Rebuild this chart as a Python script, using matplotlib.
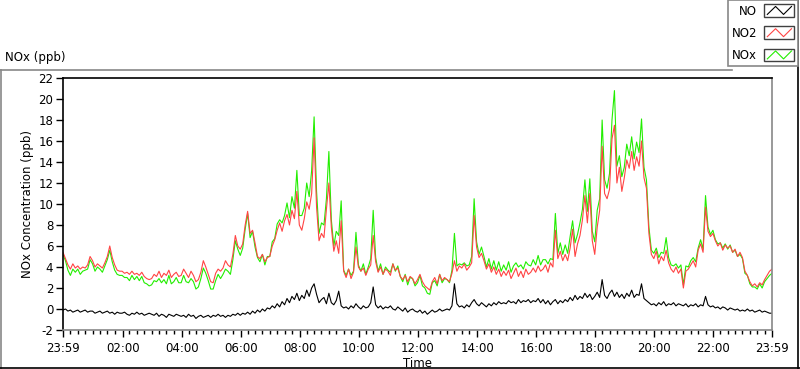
import numpy as np
import matplotlib
matplotlib.use('Agg')
import matplotlib.pyplot as plt
from matplotlib.lines import Line2D
from matplotlib.patches import Rectangle
from matplotlib.legend_handler import HandlerBase

# 5-minute readings from 23:59 to 23:59 next day (hours since start = index / 12)
no2 = [
    5.4, 4.8, 4.2, 3.8, 4.3, 3.9, 4.1, 3.8, 4.0, 3.9, 4.2, 5.0,
    4.6, 4.0, 4.3, 4.1, 3.9, 4.4, 5.0, 6.0, 4.9, 4.2, 3.7, 3.6,
    3.6, 3.4, 3.5, 3.3, 3.6, 3.3, 3.4, 3.2, 3.5, 3.1, 2.9, 2.8,
    2.9, 3.3, 3.1, 3.6, 3.0, 3.4, 3.2, 3.7, 3.0, 3.3, 3.5, 3.1,
    3.2, 3.8, 3.4, 3.0, 3.6, 3.2, 2.6, 2.8, 3.5, 4.6, 4.0, 3.3,
    2.6, 2.5, 3.4, 3.8, 3.6, 3.9, 4.6, 4.2, 4.0, 5.2, 7.0, 6.0,
    5.7, 6.2, 8.0, 9.3, 7.2, 7.5, 6.3, 5.0, 4.8, 5.2, 4.5, 4.9,
    5.0, 6.0, 6.6, 7.5, 8.2, 7.4, 8.4, 9.0, 8.0, 9.4, 8.6, 11.2,
    8.0, 7.5, 8.6, 10.2, 9.5, 11.0, 16.3, 9.7, 6.5, 7.2, 6.8, 9.5,
    12.0, 7.8, 5.5, 6.5, 5.3, 8.4, 3.6, 3.0, 3.8, 2.9, 3.5, 5.9,
    4.0, 3.6, 3.9, 3.2, 3.8, 4.2, 7.0, 4.5, 3.5, 4.0, 3.3, 3.8,
    3.6, 3.2, 4.3, 3.7, 3.9, 3.1, 2.8, 3.2, 2.6, 3.1, 2.9, 2.4,
    2.8, 3.3, 2.6, 2.2, 2.0, 1.8, 2.6, 3.0, 2.4, 3.3, 2.7, 3.0,
    2.8, 2.6, 3.4, 4.6, 3.6, 4.1, 3.9, 4.3, 3.7, 4.0, 4.4, 8.9,
    5.9, 4.9, 5.3, 4.6, 3.8, 4.3, 3.5, 4.0, 3.3, 3.8, 3.1, 3.6,
    3.2, 3.7, 2.9, 3.4, 3.9, 3.1, 3.6, 3.0, 3.8, 3.3, 3.5, 3.9,
    3.5, 4.1, 3.6, 3.8, 4.2, 3.5, 4.4, 4.0, 7.5, 4.8, 5.5, 4.6,
    5.2, 4.6, 5.8, 7.6, 5.0, 6.2, 7.0, 8.5, 10.8, 8.2, 11.0, 6.5,
    5.2, 7.8, 9.4, 15.5, 11.0, 10.5, 11.4, 16.2, 17.5, 12.0, 13.5, 11.2,
    12.5, 14.2, 13.4, 15.0, 13.2, 14.5, 13.6, 16.0, 12.5, 11.5, 7.2, 5.2,
    4.8, 5.5, 4.3, 5.0, 4.6, 5.6, 4.4, 3.8, 3.5, 4.0, 3.4, 3.8,
    2.0, 3.6, 3.8, 4.2, 4.6, 4.0, 5.6, 6.2, 5.4, 9.7, 7.4, 6.9,
    7.2, 6.5, 6.0, 6.3, 5.6, 6.1, 5.8, 6.0, 5.4, 5.7, 5.0, 5.4,
    4.9, 3.6, 3.2, 2.6, 2.2, 2.4, 2.1, 2.5, 2.3, 2.8, 3.2, 3.6, 3.8,
]

nox = [
    5.2, 4.6, 3.7, 3.2, 3.8, 3.5, 3.8, 3.3, 3.6, 3.7, 3.8, 4.7,
    4.3, 3.6, 4.0, 3.8, 3.5, 4.1, 4.7, 5.6, 4.5, 3.7, 3.3, 3.2,
    3.2, 3.0, 3.0, 2.7, 3.2, 2.8, 3.1, 2.7, 3.1, 2.5, 2.4, 2.2,
    2.3, 2.7, 2.6, 2.9, 2.5, 2.8, 2.4, 3.2, 2.4, 2.6, 3.0, 2.5,
    2.5, 3.2, 2.6, 2.5, 2.9, 2.6, 1.9, 2.1, 2.9, 3.9, 3.4, 2.7,
    1.9, 1.9, 2.7, 3.3, 2.9, 3.3, 3.8, 3.6, 3.3, 4.7, 6.5, 5.7,
    5.1, 5.8, 7.6, 9.1, 6.8, 7.4, 5.9, 4.9, 4.5, 5.2, 4.2, 5.0,
    5.0, 6.4, 6.7, 8.1, 8.5, 8.2, 8.9, 10.1, 8.7, 10.7, 9.6, 13.2,
    8.9, 8.9, 9.6, 12.0, 10.7, 13.2, 18.3, 11.2, 7.2, 8.2, 8.0, 10.5,
    15.0, 8.5, 6.0, 7.4, 7.0, 10.3, 3.7, 3.2, 3.8, 3.2, 3.6, 7.3,
    4.2, 3.6, 4.3, 3.3, 4.0, 4.8, 9.4, 4.9, 3.6, 4.3, 3.3, 4.0,
    3.7, 3.5, 4.3, 3.6, 4.1, 3.1, 2.6, 3.3, 2.3, 3.0, 2.9, 2.2,
    2.5, 3.2, 2.2, 2.0, 1.5, 1.4, 2.5, 2.7, 2.2, 3.3, 2.5, 2.9,
    2.8, 2.5, 3.7, 7.2, 4.1, 4.3, 4.2, 4.4, 4.1, 4.2, 5.0, 10.5,
    6.4, 5.2, 5.9, 5.0, 4.0, 4.8, 3.8, 4.6, 3.7, 4.5, 3.6, 4.2,
    3.7, 4.5, 3.5, 4.1, 4.4, 4.0, 4.2, 3.8, 4.5, 4.2, 4.1, 4.7,
    4.2, 5.1, 4.2, 4.7, 4.7, 4.3, 4.8, 4.7, 9.1, 5.3, 6.3, 5.2,
    6.1, 5.3, 6.9, 8.4, 6.3, 7.1, 8.2, 9.5, 12.3, 9.3, 12.4, 7.4,
    6.4, 9.4, 10.5, 18.0, 12.3, 11.5, 12.9, 18.0, 20.8, 13.6, 14.6, 12.6,
    13.5, 15.7, 14.6, 16.4, 14.3, 15.9, 14.9, 18.1, 13.5, 12.3, 7.8, 5.6,
    5.3, 5.8, 4.9, 5.4, 5.3, 6.8, 4.9, 4.2, 4.1, 4.3, 3.9, 4.2,
    2.3, 4.1, 4.0, 4.6, 4.9, 4.5, 5.8, 6.6, 5.7, 10.8, 7.8, 7.1,
    7.5, 6.6, 6.2, 6.3, 5.8, 6.2, 5.7, 6.1, 5.4, 5.6, 5.0, 5.2,
    4.8, 3.4, 3.2, 2.4, 2.1, 2.1, 1.9, 2.4, 2.0, 2.6, 2.9, 3.2, 3.4,
]

no = [
    -0.1, 0.0, -0.2, -0.1, -0.3, -0.2, -0.1, -0.3, -0.2, -0.1, -0.3, -0.2,
    -0.2, -0.4, -0.3, -0.2, -0.4, -0.3, -0.2, -0.4, -0.3, -0.5, -0.3, -0.4,
    -0.4, -0.3, -0.5, -0.6, -0.4, -0.5, -0.3, -0.5, -0.4, -0.6, -0.5, -0.4,
    -0.5, -0.6, -0.4, -0.7, -0.5, -0.6, -0.8, -0.5, -0.6, -0.7, -0.5, -0.6,
    -0.7, -0.6, -0.8, -0.5, -0.7, -0.6, -0.9, -0.7, -0.6, -0.8, -0.7, -0.6,
    -0.8, -0.6, -0.7, -0.5, -0.7, -0.6, -0.8, -0.6, -0.7, -0.5, -0.6, -0.4,
    -0.6, -0.4, -0.5, -0.3, -0.5, -0.2, -0.4, -0.1, -0.3, 0.0, -0.2, 0.1,
    0.0, 0.3, 0.1, 0.5, 0.2, 0.7, 0.4, 1.0, 0.6, 1.2, 0.9, 1.5,
    0.8, 1.3, 1.0, 1.8, 1.2, 2.0, 2.4, 1.4, 0.6, 0.9, 1.1, 0.5,
    1.5, 0.6, 0.4, 0.8, 1.7, 0.3, 0.1, 0.2, 0.0, 0.3, 0.1, 0.5,
    0.2, 0.0, 0.3, 0.1, 0.2, 0.6, 2.1, 0.4, 0.1, 0.3, 0.0, 0.2,
    0.1, 0.3, 0.0, -0.1, 0.2, 0.0, -0.2, 0.1, -0.3, -0.1, 0.0, -0.2,
    -0.3, -0.1, -0.4, -0.2, -0.5, -0.3, -0.1, -0.3, -0.2, 0.0, -0.2, -0.1,
    0.0, -0.1, 0.3, 2.4, 0.5, 0.2, 0.3, 0.1, 0.4, 0.2, 0.6, 0.9,
    0.5, 0.3, 0.6, 0.4, 0.2, 0.5, 0.3, 0.6, 0.4, 0.7, 0.5, 0.6,
    0.5, 0.8, 0.6, 0.7, 0.5, 0.9, 0.6, 0.8, 0.7, 0.9, 0.6, 0.8,
    0.7, 1.0, 0.6, 0.9, 0.5, 0.8, 0.4, 0.7, 0.9, 0.5, 0.8, 0.6,
    0.9, 0.7, 1.1, 0.8, 1.3, 0.9, 1.2, 1.0, 1.5, 1.1, 1.4, 0.9,
    1.2, 1.6, 1.1, 2.8, 1.3, 1.0, 1.5, 1.8, 1.2, 1.6, 1.1, 1.4,
    1.0, 1.5, 1.2, 1.8, 1.1, 1.4, 1.3, 2.4, 1.0, 0.8, 0.6, 0.4,
    0.5, 0.3, 0.6, 0.4, 0.7, 0.3, 0.5, 0.4, 0.6, 0.3, 0.5, 0.4,
    0.3, 0.5, 0.2, 0.4, 0.3, 0.5, 0.2, 0.4, 0.3, 1.2, 0.4, 0.2,
    0.3, 0.1, 0.2, 0.0, 0.2, 0.1, -0.1, 0.1, 0.0, -0.1, 0.0, -0.2,
    -0.1, -0.2, 0.0, -0.2, -0.1, -0.3, -0.2, -0.1, -0.3, -0.2, -0.3, -0.4, -0.4,
]

tick_labels = ['23:59', '02:00', '04:00', '06:00', '08:00', '10:00', '12:00',
               '14:00', '16:00', '18:00', '20:00', '22:00', '23:59']

hours = np.arange(len(no2)) / 12.0

W, H = 800, 369


def fx(px):
    return px / W


def fy(py):
    return 1 - py / H


class ZigzagHandler(HandlerBase):
    # LabVIEW style legend swatch: framed box with a zig-zag line
    def create_artists(self, legend, orig_handle, xdescent, ydescent,
                       width, height, fontsize, trans):
        box = Rectangle((-xdescent, -ydescent), width, height, facecolor='white',
                        edgecolor='#404040', lw=1.0, transform=trans)
        xs = np.array([0.1, 0.38, 0.65, 0.92]) * width - xdescent
        ys = np.array([0.2, 0.82, 0.2, 0.82]) * height - ydescent
        ln = Line2D(xs, ys, color=orig_handle.get_color(), lw=0.8, transform=trans)
        return [box, ln]


plt.rcParams['font.family'] = ['DejaVu Sans']
fig = plt.figure(figsize=(8, 3.69), dpi=100)
ax = fig.add_axes([fx(63), fy(330), fx(772) - fx(63), fy(78) - fy(330)])

l_nox, = ax.plot(hours, nox, color='#22ee00', lw=0.8, label='NOx')
l_no2, = ax.plot(hours, no2, color='#ff4444', lw=0.8, label='NO2')
l_no, = ax.plot(hours, no, color='black', lw=0.8, label='NO')

ax.set_xlim(0, 24)
ax.set_ylim(-2, 22)
ax.set_yticks(np.arange(-2, 23, 2))
ax.set_yticklabels([str(v) for v in range(-2, 23, 2)])
major = [0] + [h + 1 / 60 for h in range(2, 24, 2)] + [24]
ax.set_xticks(major)
ax.set_xticklabels(tick_labels)
ax.set_xticks([k * 0.25 for k in range(1, 96) if k % 8], minor=True)
ax.tick_params(axis='both', which='major', length=5, width=1, labelsize=8.5, pad=2)
ax.tick_params(axis='x', which='minor', length=3, width=1)
ax.tick_params(axis='x', which='major', pad=4)

for side in ('left', 'top'):
    ax.spines[side].set_color('black')
for side in ('bottom', 'right'):
    ax.spines[side].set_color('#888888')
for s in ax.spines.values():
    s.set_linewidth(1.2)

ax.set_xlabel('Time', fontsize=8.5, labelpad=1)
ax.set_ylabel('NOx Concentration (ppb)', fontsize=8.5, labelpad=3)

fig.text(fx(5), fy(57), 'NOx (ppb)', fontsize=8.5, va='center', ha='left')

# panel frame
fig.add_artist(Line2D([0, fx(732)], [fy(70), fy(70)], color='#888888', lw=1.2, transform=fig.transFigure))
fig.add_artist(Line2D([fx(0.8), fx(0.8)], [fy(70), 0], color='#888888', lw=1.2, transform=fig.transFigure))
fig.add_artist(Line2D([0, 1], [fy(368), fy(368)], color='black', lw=1.2, transform=fig.transFigure))
fig.add_artist(Line2D([fx(798), fx(798)], [fy(0), 0], color='black', lw=1.2, transform=fig.transFigure))

leg = fig.legend([l_no, l_no2, l_nox], ['NO', 'NO2', 'NOx'],
                 handler_map={Line2D: ZigzagHandler()},
                 loc='upper right', bbox_to_anchor=(fx(798), fy(0)),
                 bbox_transform=fig.transFigure, markerfirst=False,
                 fontsize=8.5, frameon=True, fancybox=False, framealpha=1,
                 edgecolor='#888888', borderpad=0.35, labelspacing=0.75,
                 handlelength=2.5, handleheight=1.3, handletextpad=0.6,
                 borderaxespad=0)
leg.get_frame().set_linewidth(1.2)

fig.savefig('out.png', dpi=100)
